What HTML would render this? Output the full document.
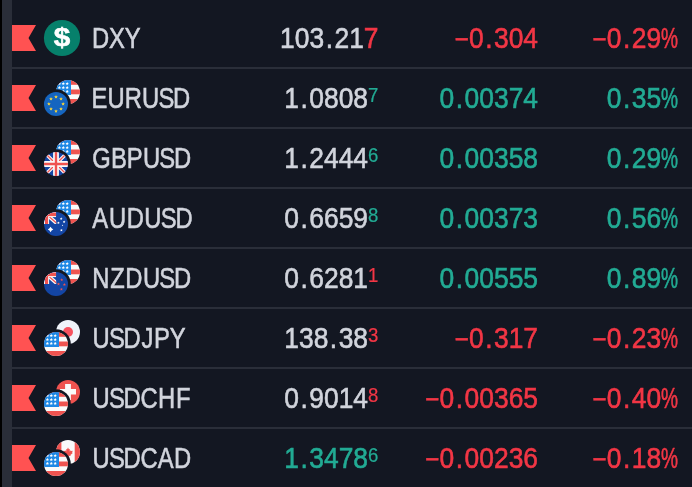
<!DOCTYPE html><html><head><meta charset="utf-8"><title>Watchlist</title><style>html,body{margin:0;padding:0;background:#131722}body{width:692px;height:487px;overflow:hidden}svg{display:block;will-change:transform}text{font-family:"Liberation Sans",sans-serif;text-anchor:middle}</style></head><body>
<svg width="692" height="487" viewBox="0 0 692 487">
<defs>
<clipPath id="c24"><circle cx="12" cy="12" r="12"/></clipPath>
<symbol id="dxy" width="36" height="36" viewBox="0 0 36 36" overflow="visible"><circle cx="18" cy="18" r="18.1" fill="#06806b"/><text transform="translate(18.05 26.3) scale(1.16 1)" x="0" y="0" font-size="25.6" font-weight="bold" fill="#fff" stroke="#fff" stroke-width="0.55">$</text></symbol>
<symbol id="f-us" width="24" height="24" viewBox="0 0 24 24"><g clip-path="url(#c24)"><rect width="24" height="24" fill="#fafafa"/><rect y="0" width="24" height="4.8" fill="#ef5350"/><rect y="9.5" width="24" height="4.8" fill="#ef5350"/><rect y="19" width="24" height="5" fill="#ef5350"/><rect width="15" height="15" fill="#1e88e5"/><polygon points="3.40,1.95 3.87,3.05 5.06,3.16 4.16,3.95 4.43,5.12 3.40,4.50 2.37,5.12 2.64,3.95 1.74,3.16 2.93,3.05" fill="#fff"/><polygon points="7.30,1.95 7.77,3.05 8.96,3.16 8.06,3.95 8.33,5.12 7.30,4.50 6.27,5.12 6.54,3.95 5.64,3.16 6.83,3.05" fill="#fff"/><polygon points="11.20,1.95 11.67,3.05 12.86,3.16 11.96,3.95 12.23,5.12 11.20,4.50 10.17,5.12 10.44,3.95 9.54,3.16 10.73,3.05" fill="#fff"/><polygon points="3.40,5.85 3.87,6.95 5.06,7.06 4.16,7.85 4.43,9.02 3.40,8.40 2.37,9.02 2.64,7.85 1.74,7.06 2.93,6.95" fill="#fff"/><polygon points="7.30,5.85 7.77,6.95 8.96,7.06 8.06,7.85 8.33,9.02 7.30,8.40 6.27,9.02 6.54,7.85 5.64,7.06 6.83,6.95" fill="#fff"/><polygon points="11.20,5.85 11.67,6.95 12.86,7.06 11.96,7.85 12.23,9.02 11.20,8.40 10.17,9.02 10.44,7.85 9.54,7.06 10.73,6.95" fill="#fff"/><polygon points="3.40,9.75 3.87,10.85 5.06,10.96 4.16,11.75 4.43,12.92 3.40,12.30 2.37,12.92 2.64,11.75 1.74,10.96 2.93,10.85" fill="#fff"/><polygon points="7.30,9.75 7.77,10.85 8.96,10.96 8.06,11.75 8.33,12.92 7.30,12.30 6.27,12.92 6.54,11.75 5.64,10.96 6.83,10.85" fill="#fff"/><polygon points="11.20,9.75 11.67,10.85 12.86,10.96 11.96,11.75 12.23,12.92 11.20,12.30 10.17,12.92 10.44,11.75 9.54,10.96 10.73,10.85" fill="#fff"/></g></symbol>
<symbol id="f-eu" width="24" height="24" viewBox="0 0 24 24"><circle cx="12" cy="12" r="12" fill="#1565c0"/><polygon points="12.00,2.95 12.50,4.21 13.85,4.30 12.81,5.16 13.15,6.48 12.00,5.75 10.85,6.48 11.19,5.16 10.15,4.30 11.50,4.21" fill="#fdd835"/><polygon points="17.02,5.03 17.52,6.29 18.88,6.38 17.83,7.24 18.17,8.56 17.02,7.83 15.87,8.56 16.21,7.24 15.17,6.38 16.52,6.29" fill="#fdd835"/><polygon points="19.10,10.05 19.60,11.31 20.95,11.40 19.91,12.26 20.25,13.58 19.10,12.85 17.95,13.58 18.29,12.26 17.25,11.40 18.60,11.31" fill="#fdd835"/><polygon points="17.02,15.07 17.52,16.33 18.88,16.42 17.83,17.28 18.17,18.60 17.02,17.87 15.87,18.60 16.21,17.28 15.17,16.42 16.52,16.33" fill="#fdd835"/><polygon points="12.00,17.15 12.50,18.41 13.85,18.50 12.81,19.36 13.15,20.68 12.00,19.95 10.85,20.68 11.19,19.36 10.15,18.50 11.50,18.41" fill="#fdd835"/><polygon points="6.98,15.07 7.48,16.33 8.83,16.42 7.79,17.28 8.13,18.60 6.98,17.87 5.83,18.60 6.17,17.28 5.12,16.42 6.48,16.33" fill="#fdd835"/><polygon points="4.90,10.05 5.40,11.31 6.75,11.40 5.71,12.26 6.05,13.58 4.90,12.85 3.75,13.58 4.09,12.26 3.05,11.40 4.40,11.31" fill="#fdd835"/><polygon points="6.98,5.03 7.48,6.29 8.83,6.38 7.79,7.24 8.13,8.56 6.98,7.83 5.83,8.56 6.17,7.24 5.12,6.38 6.48,6.29" fill="#fdd835"/></symbol>
<symbol id="f-gb" width="24" height="24" viewBox="0 0 24 24"><g clip-path="url(#c24)"><rect width="24" height="24" fill="#1345a4"/><path d="M0 0L24 24M24 0L0 24" stroke="#fafafa" stroke-width="3.4"/><path d="M0 0L24 24M24 0L0 24" stroke="#ef5350" stroke-width="1.3"/><path d="M12 0V24M0 12H24" stroke="#fafafa" stroke-width="5.8"/><path d="M12 0V24M0 12H24" stroke="#ef5350" stroke-width="2.4"/></g></symbol>
<clipPath id="cj"><rect width="12.2" height="12"/></clipPath>
<symbol id="f-au" width="24" height="24" viewBox="0 0 24 24"><g clip-path="url(#c24)"><rect width="24" height="24" fill="#1345a4"/><g clip-path="url(#cj)"><rect width="12.2" height="12" fill="#1345a4"/><path d="M2.5 2.3L13.8 12.3" stroke="#fafafa" stroke-width="3.7"/><path d="M2.5 2.3L13.8 12.3" stroke="#ef5350" stroke-width="1.3"/><rect width="12.2" height="5.1" fill="#fafafa"/><rect width="5.1" height="12" fill="#fafafa"/><rect y="0.5" width="12.2" height="3.6" fill="#ef5350"/><rect x="1" width="3.1" height="12" fill="#ef5350"/></g><polygon points="6.55,14.65 7.65,16.30 9.30,17.40 7.65,18.50 6.55,20.15 5.45,18.50 3.80,17.40 5.45,16.30" fill="#fff"/><polygon points="17.20,5.30 17.61,6.13 18.53,6.27 17.87,6.92 18.02,7.83 17.20,7.40 16.38,7.83 16.53,6.92 15.87,6.27 16.79,6.13" fill="#fff"/><polygon points="20.10,8.50 20.51,9.33 21.43,9.47 20.77,10.12 20.92,11.03 20.10,10.60 19.28,11.03 19.43,10.12 18.77,9.47 19.69,9.33" fill="#fff"/><polygon points="14.40,9.50 14.81,10.33 15.73,10.47 15.07,11.12 15.22,12.03 14.40,11.60 13.58,12.03 13.73,11.12 13.07,10.47 13.99,10.33" fill="#fff"/><polygon points="18.50,12.60 18.74,13.08 19.26,13.15 18.88,13.52 18.97,14.05 18.50,13.80 18.03,14.05 18.12,13.52 17.74,13.15 18.26,13.08" fill="#fff"/><polygon points="17.40,16.80 17.81,17.63 18.73,17.77 18.07,18.42 18.22,19.33 17.40,18.90 16.58,19.33 16.73,18.42 16.07,17.77 16.99,17.63" fill="#fff"/></g></symbol>
<symbol id="f-nz" width="24" height="24" viewBox="0 0 24 24"><g clip-path="url(#c24)"><rect width="24" height="24" fill="#1345a4"/><g clip-path="url(#cj)"><rect width="12.2" height="12" fill="#1345a4"/><path d="M2.5 2.3L13.8 12.3" stroke="#fafafa" stroke-width="3.7"/><path d="M2.5 2.3L13.8 12.3" stroke="#ef5350" stroke-width="1.3"/><rect width="12.2" height="5.1" fill="#fafafa"/><rect width="5.1" height="12" fill="#fafafa"/><rect y="0.5" width="12.2" height="3.6" fill="#ef5350"/><rect x="1" width="3.1" height="12" fill="#ef5350"/></g><polygon points="17.70,6.30 18.11,7.33 19.22,7.41 18.37,8.12 18.64,9.19 17.70,8.60 16.76,9.19 17.03,8.12 16.18,7.41 17.29,7.33" fill="#ef5350"/><polygon points="14.50,10.50 14.91,11.53 16.02,11.61 15.17,12.32 15.44,13.39 14.50,12.80 13.56,13.39 13.83,12.32 12.98,11.61 14.09,11.53" fill="#ef5350"/><polygon points="20.40,11.00 20.81,12.03 21.92,12.11 21.07,12.82 21.34,13.89 20.40,13.30 19.46,13.89 19.73,12.82 18.88,12.11 19.99,12.03" fill="#ef5350"/><polygon points="17.40,15.70 17.81,16.73 18.92,16.81 18.07,17.52 18.34,18.59 17.40,18.00 16.46,18.59 16.73,17.52 15.88,16.81 16.99,16.73" fill="#ef5350"/></g></symbol>
<symbol id="f-jp" width="24" height="24" viewBox="0 0 24 24"><circle cx="12" cy="12" r="12" fill="#f0f3fa"/><circle cx="12" cy="12" r="5" fill="#f7525f"/></symbol>
<symbol id="f-ch" width="24" height="24" viewBox="0 0 24 24"><circle cx="12" cy="12" r="12" fill="#ef5350"/><path d="M9.1 4h5.8v5h5.1v5.4h-5.1v5.6h-5.8v-5.6h-5.1v-5.4h5.1z" fill="#fafafa"/></symbol>
<symbol id="f-ca" width="24" height="24" viewBox="0 0 24 24"><g clip-path="url(#c24)"><rect width="24" height="24" fill="#fafafa"/><rect width="5.4" height="24" fill="#ef5350"/><rect x="18.7" width="5.3" height="24" fill="#ef5350"/><path d="M12 7.6l1 1.9 1-.5-.4 2.6 1.3-1.3.3.8 1.5-.3-.6 1.9.7.4-2.4 2 .3 1-2.3-.4V17.6h-.8v-1.9l-2.3.4.3-1-2.4-2 .7-.4-.6-1.9 1.5.3.3-.8 1.3 1.3-.4-2.6 1 .5z" fill="#ef5350"/></g></symbol>
</defs>
<rect width="692" height="487" fill="#131722"/>
<rect x="0" y="0" width="2" height="487" fill="#000"/>
<rect x="2" y="0" width="10" height="487" fill="#2a2e39"/>
<rect x="12" y="67" width="680" height="2" fill="#2a2e39"/>
<path d="M12 25 h24 l-7.5 13 l7.5 13 h-24 z" fill="#ff5252"/>
<use href="#dxy" x="44" y="20"/>
<text transform="translate(0 48.00) scale(0.8200 1)" x="122.66 142.64 161.88" y="0" font-size="29.00" fill="#d1d4dc" stroke="#d1d4dc" stroke-width="0.60">DXY</text>
<text transform="translate(0 48.00) scale(0.9100 1)" x="315.89 332.03 348.16 361.88 375.60 391.73" y="0" font-size="29.00" fill="#d1d4dc" stroke="#d1d4dc" stroke-width="0.60">103.21</text>
<text transform="translate(0 48.00) scale(0.9100 1)" x="407.87" y="0" font-size="29.00" fill="#f23645" stroke="#f23645" stroke-width="0.60">7</text>
<text transform="translate(0 48.80) scale(0.8500 1)" x="543.40" y="0" font-size="29.00" fill="#f23645" stroke="#f23645" stroke-width="0.45">−</text>
<text transform="translate(0 48.00) scale(0.9100 1)" x="523.44 537.15 550.87 567.01 583.14" y="0" font-size="29.00" fill="#f23645" stroke="#f23645" stroke-width="0.60">0.304</text>
<text transform="translate(0 48.80) scale(0.8500 1)" x="705.62" y="0" font-size="29.00" fill="#f23645" stroke="#f23645" stroke-width="0.45">−</text>
<text transform="translate(0 48.00) scale(0.9100 1)" x="674.95 688.67 702.39 718.52" y="0" font-size="29.00" fill="#f23645" stroke="#f23645" stroke-width="0.60">0.29</text>
<text transform="translate(0 48.00) scale(0.6600 1)" x="1014.54" y="0" font-size="29.00" fill="#f23645" stroke="#f23645" stroke-width="0.60">%</text>
<rect x="12" y="127" width="680" height="2" fill="#2a2e39"/>
<path d="M12 85 h24 l-7.5 13 l7.5 13 h-24 z" fill="#ff5252"/>
<use href="#f-us" x="56" y="80"/>
<circle cx="56" cy="104" r="14.8" fill="#131722"/>
<use href="#f-eu" x="44" y="92"/>
<text transform="translate(0 108.00) scale(0.8200 1)" x="121.35 141.56 162.56 183.56 202.84 221.51" y="0" font-size="29.00" fill="#d1d4dc" stroke="#d1d4dc" stroke-width="0.60">EURUSD</text>
<text transform="translate(0 108.00) scale(0.9100 1)" x="320.49 334.20 347.92 364.06 380.19 396.33" y="0" font-size="29.00" fill="#d1d4dc" stroke="#d1d4dc" stroke-width="0.60">1.0808</text>
<text transform="translate(0 102.30) scale(0.9100 1)" x="410.17" y="0" font-size="20.40" fill="#22ab94" stroke="#22ab94" stroke-width="0.25">7</text>
<text transform="translate(0 108.00) scale(0.9100 1)" x="491.17 504.88 518.60 534.73 550.87 567.01 583.14" y="0" font-size="29.00" fill="#22ab94" stroke="#22ab94" stroke-width="0.60">0.00374</text>
<text transform="translate(0 108.00) scale(0.9100 1)" x="674.95 688.67 702.39 718.52" y="0" font-size="29.00" fill="#22ab94" stroke="#22ab94" stroke-width="0.60">0.35</text>
<text transform="translate(0 108.00) scale(0.6600 1)" x="1014.54" y="0" font-size="29.00" fill="#22ab94" stroke="#22ab94" stroke-width="0.60">%</text>
<rect x="12" y="187" width="680" height="2" fill="#2a2e39"/>
<path d="M12 145 h24 l-7.5 13 l7.5 13 h-24 z" fill="#ff5252"/>
<use href="#f-us" x="56" y="140"/>
<circle cx="56" cy="164" r="14.8" fill="#131722"/>
<use href="#f-gb" x="44" y="152"/>
<text transform="translate(0 168.00) scale(0.8200 1)" x="123.74 144.94 164.13 184.72 204.00 222.68" y="0" font-size="29.00" fill="#d1d4dc" stroke="#d1d4dc" stroke-width="0.60">GBPUSD</text>
<text transform="translate(0 168.00) scale(0.9100 1)" x="320.49 334.20 347.92 364.06 380.19 396.33" y="0" font-size="29.00" fill="#d1d4dc" stroke="#d1d4dc" stroke-width="0.60">1.2444</text>
<text transform="translate(0 162.30) scale(0.9100 1)" x="410.17" y="0" font-size="20.40" fill="#22ab94" stroke="#22ab94" stroke-width="0.25">6</text>
<text transform="translate(0 168.00) scale(0.9100 1)" x="491.17 504.88 518.60 534.73 550.87 567.01 583.14" y="0" font-size="29.00" fill="#22ab94" stroke="#22ab94" stroke-width="0.60">0.00358</text>
<text transform="translate(0 168.00) scale(0.9100 1)" x="674.95 688.67 702.39 718.52" y="0" font-size="29.00" fill="#22ab94" stroke="#22ab94" stroke-width="0.60">0.29</text>
<text transform="translate(0 168.00) scale(0.6600 1)" x="1014.54" y="0" font-size="29.00" fill="#22ab94" stroke="#22ab94" stroke-width="0.60">%</text>
<rect x="12" y="247" width="680" height="2" fill="#2a2e39"/>
<path d="M12 205 h24 l-7.5 13 l7.5 13 h-24 z" fill="#ff5252"/>
<use href="#f-us" x="56" y="200"/>
<circle cx="56" cy="224" r="14.8" fill="#131722"/>
<use href="#f-au" x="44" y="212"/>
<text transform="translate(0 228.00) scale(0.8200 1)" x="122.27 143.40 164.93 186.46 205.74 224.42" y="0" font-size="29.00" fill="#d1d4dc" stroke="#d1d4dc" stroke-width="0.60">AUDUSD</text>
<text transform="translate(0 228.00) scale(0.9100 1)" x="320.49 334.20 347.92 364.06 380.19 396.33" y="0" font-size="29.00" fill="#d1d4dc" stroke="#d1d4dc" stroke-width="0.60">0.6659</text>
<text transform="translate(0 222.30) scale(0.9100 1)" x="410.17" y="0" font-size="20.40" fill="#22ab94" stroke="#22ab94" stroke-width="0.25">8</text>
<text transform="translate(0 228.00) scale(0.9100 1)" x="491.17 504.88 518.60 534.73 550.87 567.01 583.14" y="0" font-size="29.00" fill="#22ab94" stroke="#22ab94" stroke-width="0.60">0.00373</text>
<text transform="translate(0 228.00) scale(0.9100 1)" x="674.95 688.67 702.39 718.52" y="0" font-size="29.00" fill="#22ab94" stroke="#22ab94" stroke-width="0.60">0.56</text>
<text transform="translate(0 228.00) scale(0.6600 1)" x="1014.54" y="0" font-size="29.00" fill="#22ab94" stroke="#22ab94" stroke-width="0.60">%</text>
<rect x="12" y="307" width="680" height="2" fill="#2a2e39"/>
<path d="M12 265 h24 l-7.5 13 l7.5 13 h-24 z" fill="#ff5252"/>
<use href="#f-us" x="56" y="260"/>
<circle cx="56" cy="284" r="14.8" fill="#131722"/>
<use href="#f-nz" x="44" y="272"/>
<text transform="translate(0 288.00) scale(0.8200 1)" x="123.09 143.37 163.23 184.76 204.03 222.71" y="0" font-size="29.00" fill="#d1d4dc" stroke="#d1d4dc" stroke-width="0.60">NZDUSD</text>
<text transform="translate(0 288.00) scale(0.9100 1)" x="320.49 334.20 347.92 364.06 380.19 396.33" y="0" font-size="29.00" fill="#d1d4dc" stroke="#d1d4dc" stroke-width="0.60">0.6281</text>
<text transform="translate(0 282.30) scale(0.9100 1)" x="410.17" y="0" font-size="20.40" fill="#f23645" stroke="#f23645" stroke-width="0.25">1</text>
<text transform="translate(0 288.00) scale(0.9100 1)" x="491.17 504.88 518.60 534.73 550.87 567.01 583.14" y="0" font-size="29.00" fill="#22ab94" stroke="#22ab94" stroke-width="0.60">0.00555</text>
<text transform="translate(0 288.00) scale(0.9100 1)" x="674.95 688.67 702.39 718.52" y="0" font-size="29.00" fill="#22ab94" stroke="#22ab94" stroke-width="0.60">0.89</text>
<text transform="translate(0 288.00) scale(0.6600 1)" x="1014.54" y="0" font-size="29.00" fill="#22ab94" stroke="#22ab94" stroke-width="0.60">%</text>
<rect x="12" y="367" width="680" height="2" fill="#2a2e39"/>
<path d="M12 325 h24 l-7.5 13 l7.5 13 h-24 z" fill="#ff5252"/>
<use href="#f-jp" x="56" y="320"/>
<circle cx="56" cy="344" r="14.8" fill="#131722"/>
<use href="#f-us" x="44" y="332"/>
<text transform="translate(0 348.00) scale(0.8200 1)" x="123.26 142.53 161.21 179.80 197.46 216.72" y="0" font-size="29.00" fill="#d1d4dc" stroke="#d1d4dc" stroke-width="0.60">USDJPY</text>
<text transform="translate(0 348.00) scale(0.9100 1)" x="320.49 336.62 352.76 366.48 380.19 396.33" y="0" font-size="29.00" fill="#d1d4dc" stroke="#d1d4dc" stroke-width="0.60">138.38</text>
<text transform="translate(0 342.30) scale(0.9100 1)" x="410.17" y="0" font-size="20.40" fill="#f23645" stroke="#f23645" stroke-width="0.25">3</text>
<text transform="translate(0 348.80) scale(0.8500 1)" x="543.40" y="0" font-size="29.00" fill="#f23645" stroke="#f23645" stroke-width="0.45">−</text>
<text transform="translate(0 348.00) scale(0.9100 1)" x="523.44 537.15 550.87 567.01 583.14" y="0" font-size="29.00" fill="#f23645" stroke="#f23645" stroke-width="0.60">0.317</text>
<text transform="translate(0 348.80) scale(0.8500 1)" x="705.62" y="0" font-size="29.00" fill="#f23645" stroke="#f23645" stroke-width="0.45">−</text>
<text transform="translate(0 348.00) scale(0.9100 1)" x="674.95 688.67 702.39 718.52" y="0" font-size="29.00" fill="#f23645" stroke="#f23645" stroke-width="0.60">0.23</text>
<text transform="translate(0 348.00) scale(0.6600 1)" x="1014.54" y="0" font-size="29.00" fill="#f23645" stroke="#f23645" stroke-width="0.60">%</text>
<rect x="12" y="427" width="680" height="2" fill="#2a2e39"/>
<path d="M12 385 h24 l-7.5 13 l7.5 13 h-24 z" fill="#ff5252"/>
<use href="#f-ch" x="56" y="380"/>
<circle cx="56" cy="404" r="14.8" fill="#131722"/>
<use href="#f-us" x="44" y="392"/>
<text transform="translate(0 408.00) scale(0.8200 1)" x="123.26 142.53 161.21 181.89 203.26 223.39" y="0" font-size="29.00" fill="#d1d4dc" stroke="#d1d4dc" stroke-width="0.60">USDCHF</text>
<text transform="translate(0 408.00) scale(0.9100 1)" x="320.49 334.20 347.92 364.06 380.19 396.33" y="0" font-size="29.00" fill="#d1d4dc" stroke="#d1d4dc" stroke-width="0.60">0.9014</text>
<text transform="translate(0 402.30) scale(0.9100 1)" x="410.17" y="0" font-size="20.40" fill="#f23645" stroke="#f23645" stroke-width="0.25">8</text>
<text transform="translate(0 408.80) scale(0.8500 1)" x="508.86" y="0" font-size="29.00" fill="#f23645" stroke="#f23645" stroke-width="0.45">−</text>
<text transform="translate(0 408.00) scale(0.9100 1)" x="491.17 504.88 518.60 534.73 550.87 567.01 583.14" y="0" font-size="29.00" fill="#f23645" stroke="#f23645" stroke-width="0.60">0.00365</text>
<text transform="translate(0 408.80) scale(0.8500 1)" x="705.62" y="0" font-size="29.00" fill="#f23645" stroke="#f23645" stroke-width="0.45">−</text>
<text transform="translate(0 408.00) scale(0.9100 1)" x="674.95 688.67 702.39 718.52" y="0" font-size="29.00" fill="#f23645" stroke="#f23645" stroke-width="0.60">0.40</text>
<text transform="translate(0 408.00) scale(0.6600 1)" x="1014.54" y="0" font-size="29.00" fill="#f23645" stroke="#f23645" stroke-width="0.60">%</text>
<rect x="12" y="487" width="680" height="2" fill="#2a2e39"/>
<path d="M12 445 h24 l-7.5 13 l7.5 13 h-24 z" fill="#ff5252"/>
<use href="#f-ca" x="56" y="440"/>
<circle cx="56" cy="464" r="14.8" fill="#131722"/>
<use href="#f-us" x="44" y="452"/>
<text transform="translate(0 468.00) scale(0.8200 1)" x="123.26 142.53 161.21 181.89 202.17 222.71" y="0" font-size="29.00" fill="#d1d4dc" stroke="#d1d4dc" stroke-width="0.60">USDCAD</text>
<text transform="translate(0 468.00) scale(0.9100 1)" x="320.49 334.20 347.92 364.06 380.19 396.33" y="0" font-size="29.00" fill="#22ab94" stroke="#22ab94" stroke-width="0.60">1.3478</text>
<text transform="translate(0 462.30) scale(0.9100 1)" x="410.17" y="0" font-size="20.40" fill="#22ab94" stroke="#22ab94" stroke-width="0.25">6</text>
<text transform="translate(0 468.80) scale(0.8500 1)" x="508.86" y="0" font-size="29.00" fill="#f23645" stroke="#f23645" stroke-width="0.45">−</text>
<text transform="translate(0 468.00) scale(0.9100 1)" x="491.17 504.88 518.60 534.73 550.87 567.01 583.14" y="0" font-size="29.00" fill="#f23645" stroke="#f23645" stroke-width="0.60">0.00236</text>
<text transform="translate(0 468.80) scale(0.8500 1)" x="705.62" y="0" font-size="29.00" fill="#f23645" stroke="#f23645" stroke-width="0.45">−</text>
<text transform="translate(0 468.00) scale(0.9100 1)" x="674.95 688.67 702.39 718.52" y="0" font-size="29.00" fill="#f23645" stroke="#f23645" stroke-width="0.60">0.18</text>
<text transform="translate(0 468.00) scale(0.6600 1)" x="1014.54" y="0" font-size="29.00" fill="#f23645" stroke="#f23645" stroke-width="0.60">%</text>
</svg></body></html>
